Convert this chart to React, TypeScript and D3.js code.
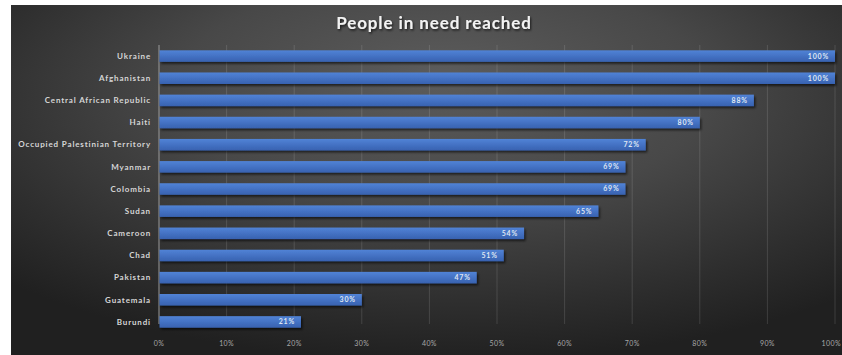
import React from "react";
import * as d3 from "d3";

const countries = [
  "Ukraine",
  "Afghanistan",
  "Central African Republic",
  "Haiti",
  "Occupied Palestinian Territory",
  "Myanmar",
  "Colombia",
  "Sudan",
  "Cameroon",
  "Chad",
  "Pakistan",
  "Guatemala",
  "Burundi",
];
const reached = [100, 100, 88, 80, 72, 69, 69, 65, 54, 51, 47, 30, 21];
const ticks = [0, 10, 20, 30, 40, 50, 60, 70, 80, 90, 100];
const title = "People in need reached";

const W = 842;
const H = 355;
const margin = { left: 159, right: 7, top: 45, bottom: 22 };

export default function App() {
  const x = d3.scaleLinear().domain([0, 100]).range([margin.left, W - margin.right]);
  const y = d3
    .scaleBand<string>()
    .domain(countries)
    .range([margin.top, H - margin.bottom])
    .paddingInner(0.48)
    .paddingOuter(0.24);
  const bh = y.bandwidth();
  const font = "Lato, 'Open Sans', sans-serif";

  return (
    <svg
      width={W}
      height={H}
      style={{ position: "absolute", left: 0, top: 0, display: "block" }}
      xmlns="http://www.w3.org/2000/svg"
    >
      <defs>
        <radialGradient id="bg" cx="0.52" cy="0.3" r="0.72" fx="0.52" fy="0.2">
          <stop offset="0" stopColor="#5c5c5c" />
          <stop offset="0.45" stopColor="#484848" />
          <stop offset="0.8" stopColor="#2e2e2e" />
          <stop offset="1" stopColor="#202020" />
        </radialGradient>
        <linearGradient id="bar" x1="0" y1="0" x2="0" y2="1">
          <stop offset="0" stopColor="#5183d6" />
          <stop offset="0.5" stopColor="#4472c4" />
          <stop offset="1" stopColor="#3862b0" />
        </linearGradient>
        <filter id="shadow" x="-5%" y="-50%" width="110%" height="220%">
          <feDropShadow dx="1.5" dy="2" stdDeviation="1.2" floodColor="#000" floodOpacity="0.6" />
        </filter>
        <filter id="tshadow" x="-10%" y="-50%" width="120%" height="200%">
          <feDropShadow dx="1" dy="1.5" stdDeviation="1" floodColor="#000" floodOpacity="0.7" />
        </filter>
      </defs>
      <rect x={0} y={0} width={W} height={H} fill="#ffffff" />
      <rect x={11} y={5} width={W - 11} height={H - 5} fill="url(#bg)" />

      <text
        x={434}
        y={29}
        textAnchor="middle"
        fill="#f2f2f2"
        fontFamily={font}
        fontWeight={700}
        fontSize={17}
        letterSpacing={0.9}
        filter="url(#tshadow)"
      >
        {title}
      </text>

      {ticks.map((t) => {
        const last = t === ticks[ticks.length - 1];
        return (
          <g key={t}>
            {t > 0 && (
              <line
                x1={x(t)}
                x2={x(t)}
                y1={margin.top}
                y2={H - margin.bottom - 9}
                stroke="#ffffff"
                strokeOpacity={0.13}
                strokeWidth={1}
              />
            )}
            <text
              x={last ? W - 1 : x(t)}
              y={346}
              textAnchor={last ? "end" : "middle"}
              fill="#a8a8a8"
              fontFamily={font}
              fontSize={7}
              letterSpacing={0.4}
            >
              {t}%
            </text>
          </g>
        );
      })}
      <line
        x1={x(0)}
        x2={x(0)}
        y1={margin.top}
        y2={H - margin.bottom - 9}
        stroke="#9a9a9a"
        strokeWidth={1}
      />

      {countries.map((c, i) => {
        const yy = y(c)!;
        const v = reached[i];
        return (
          <g key={c}>
            <text
              x={151}
              y={yy + bh / 2}
              dy="0.35em"
              textAnchor="end"
              fill="#d6d6d6"
              fontFamily={font}
              fontWeight={700}
              fontSize={8}
              letterSpacing={0.85}
            >
              {c}
            </text>
            <rect
              x={x(0) + 0.5}
              y={yy}
              width={x(v) - x(0) - 0.5}
              height={bh}
              fill="url(#bar)"
              filter="url(#shadow)"
            />
            <text
              x={x(v) - 6}
              y={yy + bh / 2}
              dy="0.35em"
              textAnchor="end"
              fill="#dfe6f2"
              fontFamily={font}
              fontWeight={700}
              fontSize={7}
              letterSpacing={0.8}
            >
              {v}%
            </text>
          </g>
        );
      })}
    </svg>
  );
}
